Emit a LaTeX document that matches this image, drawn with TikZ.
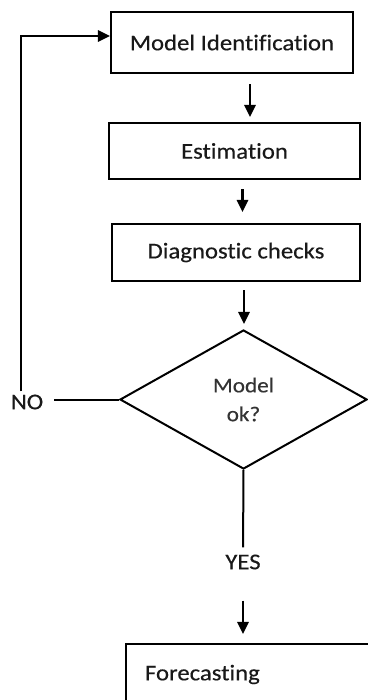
\documentclass[tikz,border=0pt]{standalone}
\usepackage{fontspec}
\setmainfont{Carlito}[FakeStretch=1.1, FakeBold=0.4, Ligatures=NoCommon]
\usetikzlibrary{arrows.meta,shapes.geometric}

\tikzset{
	stepbox/.style={draw, line width=0.5mm, minimum width=#1, inner sep=0, text=black!90, font=\fontsize{16}{19}\selectfont},
	decision/.style={draw, diamond, line width=0.5mm, minimum width=6.175cm, minimum height=3.475cm, inner sep=0, align=center, text=black!80, font=\fontsize{15}{20.5}\selectfont},
	word/.style={inner sep=0, text=black!90, font=\fontsize{16}{19}\selectfont},
	arr/.style={line width=0.55mm, -{Triangle[length=3mm,width=2.8mm]}},
	link/.style={line width=0.5mm}
}

\begin{document}
\begin{tikzpicture}[x=0.025cm, y=-0.025cm]
		%%%%% START %%%%%
		
		\useasboundingbox (0, 0) rectangle (368, 700);
		\clip (0, 0) rectangle (368, 700);
		
		\node[stepbox=6.05cm, minimum height=1.525cm] (ident) at (232, 42.5) {Model Identification};
		\node[stepbox=6.275cm, minimum height=1.4cm] (est) at (234.5, 151) {Estimation};
		\node[stepbox=6.2cm, minimum height=1.425cm] (diag) at (236, 252.5) {Diagnostic checks};
		
		\node[decision] (check) at (243.5, 399.5) {Model\\ok?};
		
		\node[word] (no) at (27, 402) {NO};
		\node[word] (yes) at (243, 562) {YES};
		
		\node[stepbox=6.35cm, minimum height=1.525cm, text width=5.4cm, align=left, inner xsep=0.475cm] (fore) at (253, 674.5) {Forecasting};
		
		\draw[arr, shorten <=0.25cm, shorten >=0.125cm] ([xshift=0.45cm]ident.south) -- ([xshift=0.45cm]ident.south |- est.north);
		\draw[arr, shorten <=0.225cm, shorten >=0.275cm] ([xshift=0.2cm]est.south) -- ([xshift=0.2cm]est.south |- diag.north);
		\draw[arr, shorten <=0.2cm, shorten >=0.125cm] ([xshift=0.2cm]diag.south) -- ([xshift=0.2cm]diag.south |- check.north);
		
		\draw[link, shorten >=0.275cm] (check.west) -- (check.west -| no.east);
		\coordinate (loop) at (21, 36);
		\draw[arr, shorten <=0.075cm] (no.north -| loop) -- (loop) -- (loop -| ident.west);
		
		\draw[link, shorten >=0.175cm] (check.south) -- (yes.north);
		\draw[arr, shorten <=0.775cm, shorten >=0.225cm] (yes.south) -- (yes.south |- fore.north);
		
		%%%%% END %%%%%
	\end{tikzpicture}
\end{document}
